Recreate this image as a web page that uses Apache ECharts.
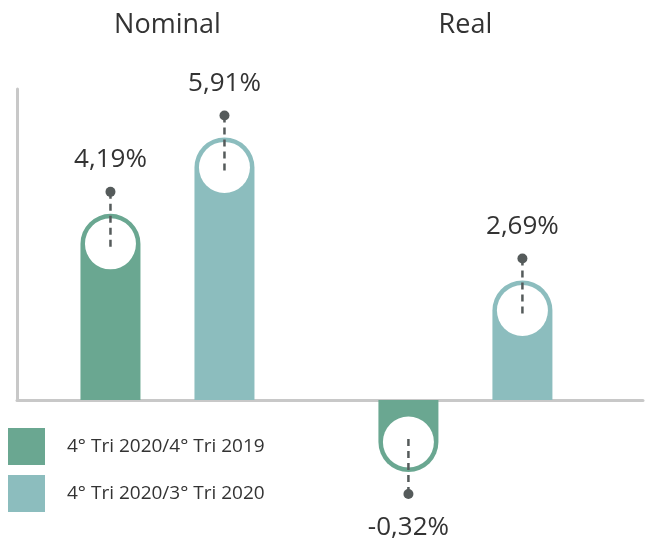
<!DOCTYPE html>
<html>
<head>
<meta charset="utf-8">
<script src="https://cdn.jsdelivr.net/npm/echarts@6/dist/echarts.min.js"></script>
<style>
  html, body { margin: 0; padding: 0; background: #fff; }
  #chart { width: 659px; height: 538px; }
</style>
</head>
<body>
<div id="chart"></div>
<script>
var categories = ['Nominal', 'Real'];
var seriesNames = ['4° Tri 2020/4° Tri 2019', '4° Tri 2020/3° Tri 2020'];
var valuesYoY = [4.19, -0.32];
var valuesQoQ = [5.91, 2.69];
var colors = ['#6aa791', '#8cbdbe'];

var font = 'Open Sans';
var barW = 60;
var capR = 30;

function fmt(v) {
  return v.toFixed(2).replace('.', ',') + '%';
}

function renderBar(offset) {
  return function (params, api) {
    var x = api.value(0);
    var v = api.value(1);
    var p0 = api.coord([x, 0]);
    var p1 = api.coord([x, v]);
    var cx = p0[0] + offset;
    var dir = v >= 0 ? -1 : 1;
    var len = Math.max(Math.abs(p1[1] - p0[1]), 72);
    var yEnd = p0[1] + dir * len;
    var capY = yEnd - dir * capR;
    var dotY = yEnd + dir * 22;
    var textY = dotY + dir * (dir < 0 ? 32 : 34);
    var rect = {
      x: cx - capR,
      y: dir < 0 ? yEnd : p0[1],
      width: barW,
      height: len,
      r: dir < 0 ? [capR, capR, 0, 0] : [0, 0, capR, capR]
    };
    return {
      type: 'group',
      children: [
        { type: 'rect', shape: rect, style: { fill: api.visual('color') } },
        { type: 'circle', shape: { cx: cx, cy: capY, r: 25.5 }, style: { fill: '#fff' } },
        {
          type: 'line',
          shape: { x1: cx, y1: dotY, x2: cx, y2: capY - dir * 6 },
          style: { stroke: '#555b5b', lineWidth: 2.5, lineDash: [7, 5] }
        },
        { type: 'circle', shape: { cx: cx, cy: dotY, r: 5 }, style: { fill: '#555b5b' } },
        {
          type: 'text',
          style: {
            x: cx, y: textY, text: fmt(v),
            align: 'center', verticalAlign: 'middle',
            fill: '#333', font: '26px "' + font + '"'
          }
        }
      ]
    };
  };
}

var xMin = -0.505, xMax = 1.596;

var option = {
  animation: false,
  grid: { left: 17, right: 16, top: 89, bottom: 138 },
  legend: {
    orient: 'vertical',
    left: 8,
    top: 428,
    padding: 0,
    icon: 'rect',
    itemWidth: 37,
    itemHeight: 37,
    itemGap: 10,
    selectedMode: false,
    textStyle: { fontFamily: font, fontSize: 19, color: '#333', padding: [0, 0, 0, 17] },
    data: seriesNames
  },
  xAxis: [
    {
      type: 'value', position: 'top', min: xMin, max: xMax,
      axisLine: { show: false, onZero: false },
      axisTick: { show: false },
      splitLine: { show: false },
      axisLabel: {
        customValues: [0, 1],
        margin: 50,
        fontFamily: font, fontSize: 27, color: '#333',
        formatter: function (v) { return categories[Math.round(v)]; }
      }
    },
    {
      type: 'value', position: 'bottom', min: xMin, max: xMax,
      axisLine: { show: true, onZero: false, lineStyle: { color: '#c8c8c8', width: 3 } },
      axisTick: { show: false },
      axisLabel: { show: false },
      splitLine: { show: false }
    }
  ],
  yAxis: {
    type: 'value', min: 0, max: 7, position: 'left',
    axisLine: { show: true, onZero: false, lineStyle: { color: '#c8c8c8', width: 3 } },
    axisTick: { show: false },
    axisLabel: { show: false },
    splitLine: { show: false }
  },
  series: [
    {
      name: seriesNames[0], type: 'custom', xAxisIndex: 0, clip: false,
      itemStyle: { color: colors[0] },
      renderItem: renderBar(-57),
      data: valuesYoY.map(function (v, i) { return [i, v]; })
    },
    {
      name: seriesNames[1], type: 'custom', xAxisIndex: 0, clip: false,
      itemStyle: { color: colors[1] },
      renderItem: renderBar(57),
      data: valuesQoQ.map(function (v, i) { return [i, v]; })
    }
  ]
};

var myChart = echarts.init(document.getElementById('chart'));
myChart.setOption(option);
</script>
</body>
</html>
